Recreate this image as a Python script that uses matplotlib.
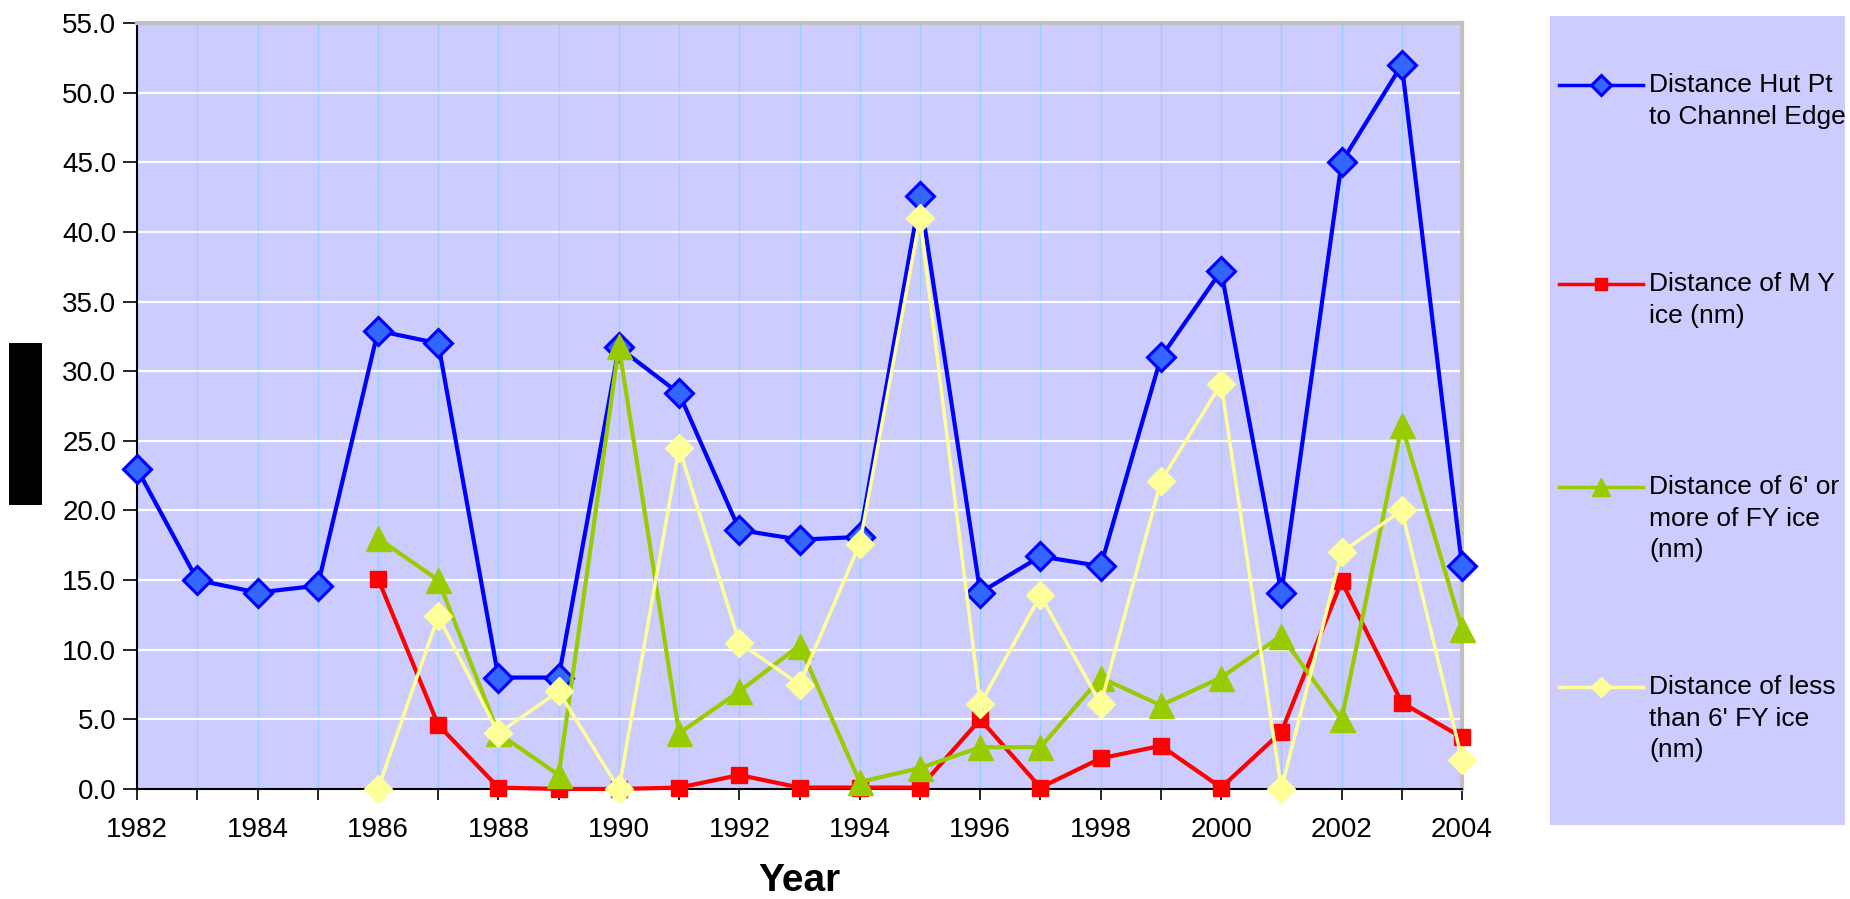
import numpy as np
import matplotlib
matplotlib.use("Agg")
from matplotlib import pyplot as plt
from matplotlib.patches import Rectangle

plt.rcParams['font.family'] = ['Liberation Sans', 'DejaVu Sans']

# data
years = list(range(1982, 2005))
years_86 = list(range(1986, 2005))

hut_pt = [23.0, 15.0, 14.1, 14.6, 32.9, 32.0, 8.0, 8.0, 31.7, 28.4, 18.6, 17.9,
          18.1, 42.6, 14.1, 16.7, 16.0, 31.0, 37.2, 14.1, 45.0, 52.0, 16.0]
my_ice = [15.1, 4.6, 0.1, 0.0, 0.0, 0.1, 1.0, 0.1, 0.1, 0.1, 5.0, 0.1,
          2.2, 3.1, 0.1, 4.1, 14.9, 6.2, 3.7]
fy_more = [18.0, 15.0, 4.0, 1.0, 31.8, 4.0, 7.0, 10.3, 0.5, 1.5, 3.0, 3.0,
           8.0, 6.0, 8.0, 11.0, 5.0, 26.1, 11.5]
fy_less = [0.0, 12.4, 4.0, 7.0, 0.0, 24.5, 10.5, 7.5, 17.6, 41.0, 6.1, 13.9,
           6.1, 22.1, 29.1, 0.0, 17.0, 20.0, 2.1]

labels = ["Distance Hut Pt\nto Channel Edge",
          "Distance of M Y\nice (nm)",
          "Distance of 6' or\nmore of FY ice\n(nm)",
          "Distance of less\nthan 6' FY ice\n(nm)"]

bg = '#CCCCFF'

fig = plt.figure(figsize=(18.5, 8.99), dpi=100)
ax = fig.add_axes([0.0741, 0.1224, 0.7162, 0.852])
ax.set_facecolor(bg)

styles = [
    dict(color='#0000FF', marker='D', markersize=14, markerfacecolor='#3366FF',
         markeredgecolor='#0000FF', markeredgewidth=2.2, linewidth=3),
    dict(color='#FF0000', marker='s', markersize=12, markerfacecolor='#FF0000',
         markeredgecolor='#FF0000', linewidth=3),
    dict(color='#99CC00', marker='^', markersize=18, markerfacecolor='#99CC00',
         markeredgecolor='#99CC00', linewidth=3),
    dict(color='#FFFF99', marker='D', markersize=14, markerfacecolor='#FFFF99',
         markeredgecolor='#FFFF99', linewidth=2.5),
]

series = [(years, hut_pt), (years_86, my_ice), (years_86, fy_more), (years_86, fy_less)]
for (xs, ys), st in zip(series, styles):
    ax.plot(xs, ys, clip_on=False, zorder=3, **st)

ax.set_xlim(1982, 2004)
ax.set_ylim(0, 55)
ax.set_xticks(range(1982, 2005, 2))
ax.set_xticks(range(1983, 2004, 2), minor=True)
ax.set_yticks(np.arange(0, 56, 5))
ax.set_yticklabels(['%.1f' % v for v in np.arange(0, 56, 5)])
ax.tick_params(axis='both', which='both', direction='out', labelsize=20, color='black')
ax.tick_params(axis='y', length=10, width=1.2, pad=5)
ax.tick_params(axis='x', which='both', length=8, width=1.2, pad=12)

for yr in years:
    ax.axvline(yr, color='#99CCFF', linewidth=1, zorder=1)
for v in np.arange(5, 55, 5):
    ax.axhline(v, color='white', linewidth=1.6, zorder=1)

ax.spines['left'].set_color('black')
ax.spines['bottom'].set_color('black')
ax.spines['left'].set_linewidth(1.5)
ax.spines['bottom'].set_linewidth(1.5)
ax.spines['top'].set_color('#C0C0C0')
ax.spines['right'].set_color('#C0C0C0')
ax.spines['top'].set_linewidth(3)
ax.spines['right'].set_linewidth(3)

fig.text(0.432, 0.02, 'Year', fontsize=28, fontweight='bold', ha='center', va='center')

# redacted y label block
fig.patches.append(Rectangle((0.0051, 0.4383), 0.0178, 0.1802, transform=fig.transFigure,
                             facecolor='black', edgecolor='none'))

# legend panel, laid out in pixel coordinates
lax = fig.add_axes([0.8378, 0.0823, 0.1595, 0.8999])
lax.set_facecolor(bg)
lax.set_xlim(1550, 1845)
lax.set_ylim(825, 16)
lax.set_xticks([])
lax.set_yticks([])
for s in lax.spines.values():
    s.set_visible(False)

entry_y = [85, 284, 487, 687]
for yy, lab, st in zip(entry_y, labels, styles):
    lax.plot([1559, 1643], [yy, yy], color=st['color'], linewidth=2.5)
    mst = {k: v for k, v in st.items() if k.startswith('marker')}
    mst['markersize'] = mst['markersize'] * 0.7
    lax.plot([1601], [yy], linestyle='none', **mst)
    lax.text(1649, yy - 12, lab, fontsize=19, ha='left', va='top', linespacing=1.4)

fig.savefig('out.png', dpi=100)
